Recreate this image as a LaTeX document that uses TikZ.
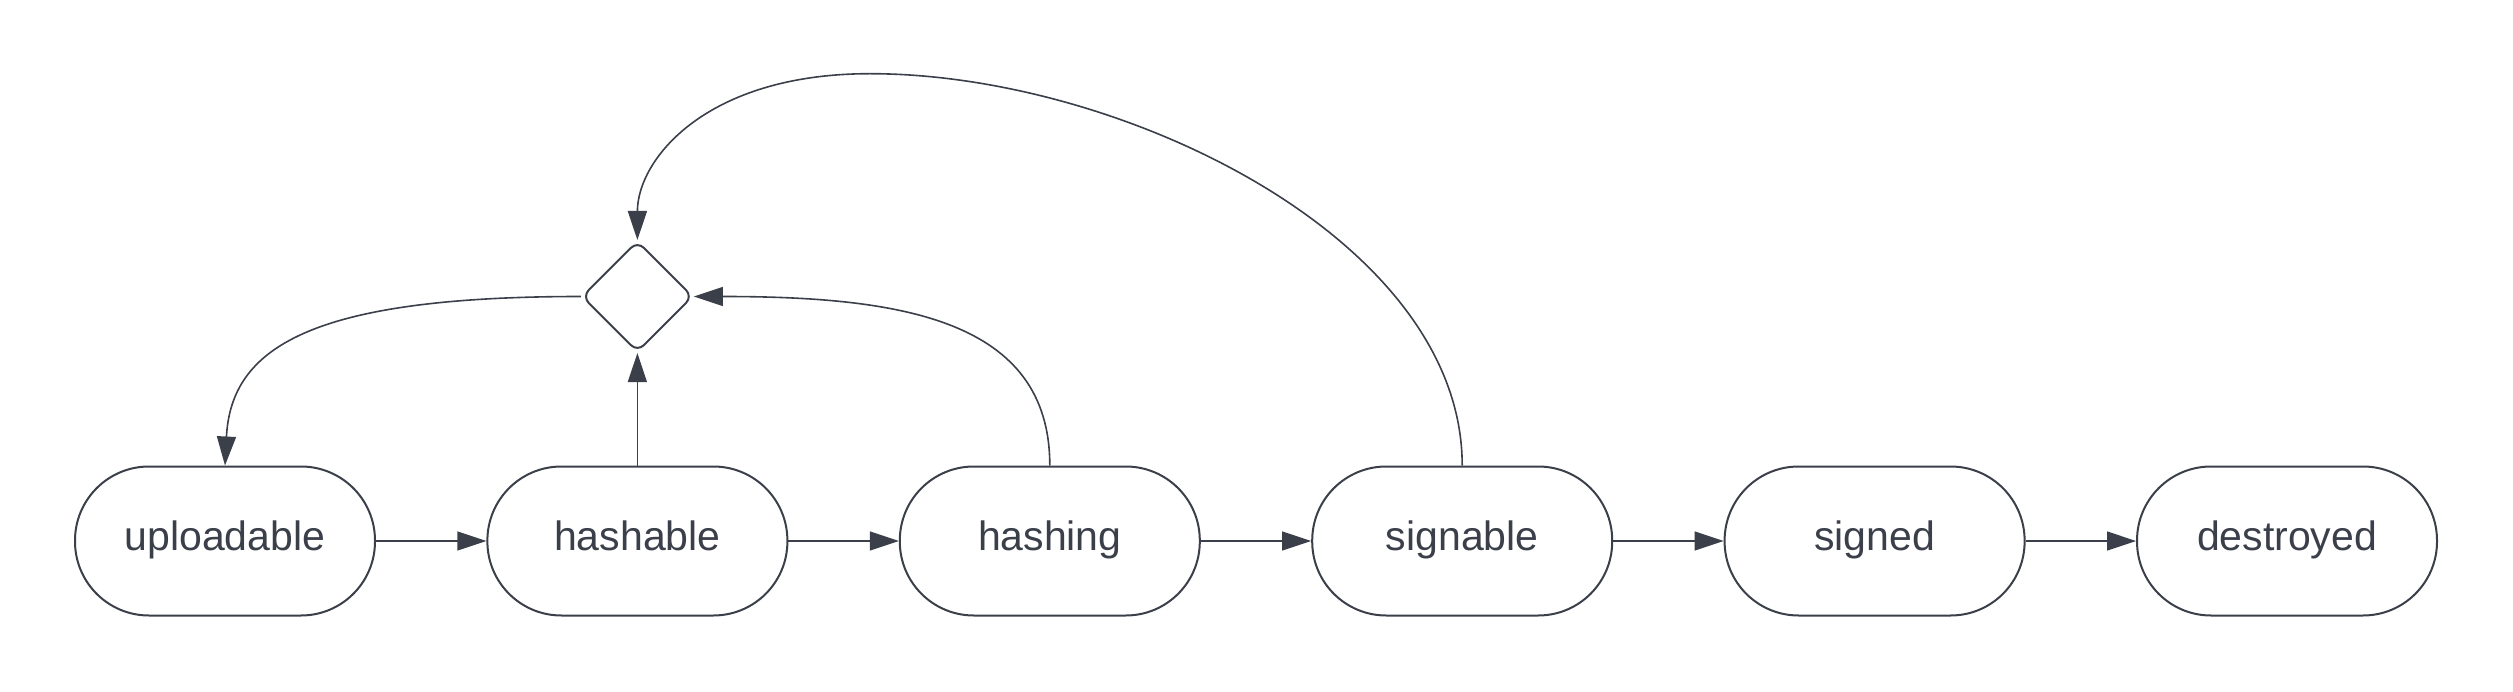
\documentclass[tikz,border=0pt]{standalone}
\usepackage{fontspec}
\setmainfont{Liberation Sans}
\usetikzlibrary{arrows.meta,shapes.geometric}
\definecolor{ink}{HTML}{3A3F4A}
\tikzset{
  state/.style={draw=ink, line width=2pt, rounded corners=74pt, minimum width=300pt, minimum height=149pt, inner sep=0pt, text=ink, text height=28pt, text depth=9.5pt, font=\fontsize{41}{49}\selectfont},
  choice/.style={draw=ink, line width=2pt, diamond, aspect=1, minimum width=111pt, minimum height=111pt, inner sep=0pt, rounded corners=9pt},
  conn/.style={draw=ink, line width=1.6pt, -{Triangle[length=29pt,width=19pt]}, color=ink},
  thin conn/.style={conn, line width=1.2pt}
}
\begin{document}
\begin{tikzpicture}[x=1pt,y=-1pt]
\useasboundingbox (0,0) rectangle (2513,692);
\node[state] (u) at (225,541) {uploadable};
\node[state] (ha) at (637.4,541) {hashable};
\node[state] (hi) at (1049.8,541) {hashing};
\node[state] (sa) at (1462.2,541) {signable};
\node[state] (sd) at (1874.6,541) {signed};
\node[state] (de) at (2287,541) {destroyed};
\node[choice] (d) at (637.4,296.5) {};
\coordinate (top) at (870,73.7);
\draw[thin conn] (u.east) -- (ha.west);
\draw[thin conn] (ha.east) -- (hi.west);
\draw[thin conn] (hi.east) -- (sa.west);
\draw[thin conn] (sa.east) -- (sd.west);
\draw[thin conn] (sd.east) -- (de.west);
\draw[thin conn] (ha.north) -- (d.south);
\draw[conn] (d.west) .. controls +(-270,0) and +(6,-118) .. (u.north);
\draw[conn] (hi.north) .. controls +(0,-146) and +(207,0) .. (d.east);
\draw[conn] (sa.north) .. controls +(0,-226) and +(252,0) .. (top)
  .. controls +(-165,0) and +(0,-80) .. (d.north);
\end{tikzpicture}
\end{document}
